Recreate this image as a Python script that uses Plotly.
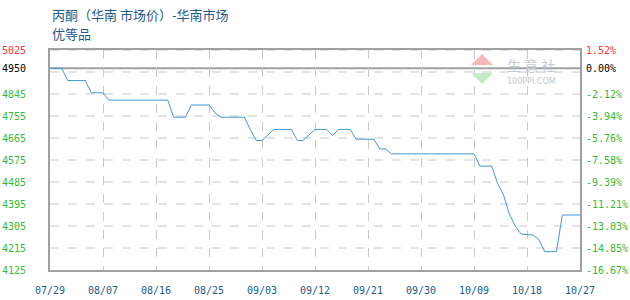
import plotly.graph_objects as go
import pandas as pd

# ---- data ----
start_date = "2024-07-29"
prices = (
    [4950] * 3 +            # days 0-2
    [4900] * 4 +            # 3-6
    [4850] * 3 +            # 7-9
    [4820] * 11 +           # 10-20
    [4750] * 3 +            # 21-23
    [4800] * 4 +            # 24-27
    [4768] +                # 28
    [4750] * 5 +            # 29-33
    [4700] +                # 34
    [4655] * 2 +            # 35-36
    [4678] +                # 37
    [4700] * 4 +            # 38-41
    [4655] * 2 +            # 42-43
    [4678] +                # 44
    [4700] * 3 +            # 45-47
    [4675] +                # 48
    [4700] * 3 +            # 49-51
    [4660] * 4 +            # 52-55
    [4620] * 2 +            # 56-57
    [4600] * 15 +           # 58-72
    [4550] * 3 +            # 73-75
    [4480, 4432, 4355, 4305, 4272, 4270, 4268, 4250] +  # 76-83
    [4200] * 3 +            # 84-86
    [4350] * 4              # 87-90
)
dates = pd.date_range(start_date, periods=len(prices), freq="D")

base_price = 4950
y_ticks = [5025, 4950, 4845, 4755, 4665, 4575, 4485, 4395, 4305, 4215, 4125]
grid_vals = [5025, 4935, 4845, 4755, 4665, 4575, 4485, 4395, 4305, 4215]
x_ticks = pd.date_range(start_date, periods=11, freq="9D")

title_line1 = "丙酮（华南 市场价）-华南市场"
title_line2 = "优等品"

RED = "#ff3333"
GREEN = "#33bb33"
BLACK = "#000000"
BLUE_TXT = "#1d5b8a"
GRID = "#c8c8c8"
AXIS = "#a0a0a0"


def col(v):
    if v > base_price:
        return RED
    if v == base_price:
        return BLACK
    return GREEN


left_text = [f'<span style="color:{col(v)}">{v}</span>' for v in y_ticks]
right_text = []
for v in y_ticks:
    pct = (v / base_price - 1) * 100
    s = f"{pct:.2f}%"
    if abs(pct) < 1e-9:
        s = "0.00%"
    right_text.append(f'<span style="color:{col(v)}">{s}</span>')

fig = go.Figure()
fig.add_trace(go.Scatter(x=dates, y=prices, mode="lines",
                         line=dict(color="#3f9ad6", width=1),
                         hoverinfo="skip", showlegend=False))
fig.add_trace(go.Scatter(x=dates, y=prices, mode="lines", yaxis="y2",
                         line=dict(color="rgba(0,0,0,0)", width=0),
                         hoverinfo="skip", showlegend=False))

mono = "DejaVu Sans Mono"
rng = [min(y_ticks), max(y_ticks)]

fig.update_layout(
    width=630, height=300,
    margin=dict(l=50, r=50, t=50, b=30),
    paper_bgcolor="white", plot_bgcolor="white",
    xaxis=dict(
        range=[dates[0], dates[-1]], automargin=False,
        tickvals=list(x_ticks), ticktext=[d.strftime("%m/%d") for d in x_ticks],
        showgrid=True, gridcolor=GRID, griddash="dash", gridwidth=1,
        showline=True, linecolor=AXIS, linewidth=2, mirror=True,
        ticks="outside", ticklen=10, tickcolor="rgba(0,0,0,0)",
        tickfont=dict(family=mono, size=10, color=BLUE_TXT),
        zeroline=False,
    ),
    yaxis=dict(
        range=rng, tickvals=y_ticks, ticktext=left_text, automargin=False,
        showgrid=False,
        showline=True, linecolor=AXIS, linewidth=2, mirror=True,
        ticks="outside", ticklen=20, tickcolor="rgba(0,0,0,0)",
        tickfont=dict(family=mono, size=10),
        zeroline=False,
    ),
    yaxis2=dict(
        range=rng, overlaying="y", side="right", automargin=False,
        tickvals=y_ticks, ticktext=right_text,
        showgrid=False, showline=False,
        ticks="outside", ticklen=3, tickcolor="rgba(0,0,0,0)",
        tickfont=dict(family=mono, size=10),
        zeroline=False,
    ),
)

# dashed horizontal grid
for g in grid_vals:
    fig.add_hline(y=g, line=dict(color=GRID, width=1, dash="dash"), layer="below")
# solid base line
fig.add_hline(y=base_price, line=dict(color=AXIS, width=2), layer="below")

# title
fig.add_annotation(text=title_line1, xref="paper", yref="paper", x=0, y=1 + 36 / 220,
                   xanchor="left", yanchor="middle", showarrow=False,
                   font=dict(family="Noto Sans CJK SC", size=13, color=BLUE_TXT))
fig.add_annotation(text=title_line2, xref="paper", yref="paper", x=0, y=1 + 16 / 220,
                   xanchor="left", yanchor="middle", showarrow=False,
                   font=dict(family="Noto Sans CJK SC", size=13, color=BLUE_TXT))


# watermark
def px(xp):
    return (xp - 50) / 530


def py(yp):
    return (270 - yp) / 220


fig.add_shape(type="path", xref="paper", yref="paper",
              path=f"M {px(471)} {py(65)} L {px(482)} {py(54)} L {px(493)} {py(65)} Z",
              fillcolor="#f6b8b8", line=dict(width=0), layer="above")
fig.add_shape(type="path", xref="paper", yref="paper",
              path=f"M {px(471)} {py(73)} L {px(482)} {py(84)} L {px(493)} {py(73)} Z",
              fillcolor="#c4ecc4", line=dict(width=0), layer="above")
fig.add_annotation(text="生 意 社", xref="paper", yref="paper", x=px(531), y=py(65),
                   xanchor="center", yanchor="middle", showarrow=False, borderpad=0,
                   font=dict(family="Noto Sans CJK SC", size=14, color="#c4c8de"))
fig.add_annotation(text="100PPI.COM", xref="paper", yref="paper", x=px(531), y=py(81),
                   xanchor="center", yanchor="middle", showarrow=False, borderpad=0,
                   font=dict(family="DejaVu Sans", size=8, color="#c8c8c8"))

fig.write_html("out.html")
